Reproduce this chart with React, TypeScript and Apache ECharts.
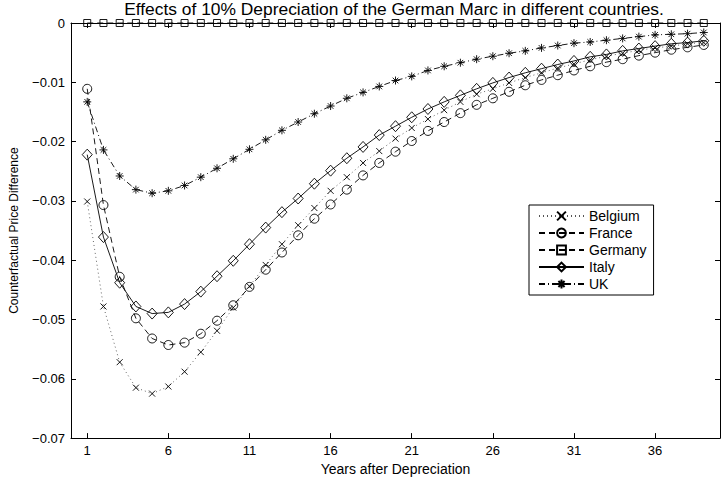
import React, { useEffect, useRef } from 'react';
import * as echarts from 'echarts';

const years = [1, 2, 3, 4, 5, 6, 7, 8, 9, 10, 11, 12, 13, 14, 15, 16, 17, 18, 19, 20, 21, 22, 23, 24, 25, 26, 27, 28, 29, 30, 31, 32, 33, 34, 35, 36, 37, 38, 39];
const tickYears = [1, 6, 11, 16, 21, 26, 31, 36];

const belgium = [-0.0301, -0.0478, -0.0572, -0.0615, -0.0625, -0.0613, -0.0588, -0.0555, -0.0519, -0.0480, -0.0444, -0.0408, -0.0373, -0.0341, -0.0312, -0.0283, -0.0260, -0.0236, -0.0216, -0.0195, -0.0177, -0.0162, -0.0147, -0.0133, -0.0120, -0.0111, -0.0101, -0.0092, -0.0084, -0.0076, -0.0069, -0.0062, -0.0056, -0.0051, -0.0046, -0.0042, -0.0039, -0.0035, -0.0033];
const france = [-0.0111, -0.0307, -0.0428, -0.0498, -0.0532, -0.0543, -0.0539, -0.0524, -0.0502, -0.0476, -0.0445, -0.0416, -0.0387, -0.0358, -0.0330, -0.0306, -0.0281, -0.0257, -0.0236, -0.0217, -0.0199, -0.0182, -0.0167, -0.0152, -0.0138, -0.0127, -0.0116, -0.0105, -0.0096, -0.0088, -0.0080, -0.0073, -0.0066, -0.0061, -0.0055, -0.0050, -0.0045, -0.0041, -0.0037];
const germany = [0, 0, 0, 0, 0, 0, 0, 0, 0, 0, 0, 0, 0, 0, 0, 0, 0, 0, 0, 0, 0, 0, 0, 0, 0, 0, 0, 0, 0, 0, 0, 0, 0, 0, 0, 0, 0, 0, 0];
const italy = [-0.0222, -0.0361, -0.0438, -0.0478, -0.0490, -0.0488, -0.0474, -0.0453, -0.0427, -0.0401, -0.0373, -0.0345, -0.0319, -0.0296, -0.0271, -0.0249, -0.0228, -0.0209, -0.0189, -0.0174, -0.0159, -0.0145, -0.0133, -0.0122, -0.0111, -0.0101, -0.0092, -0.0084, -0.0077, -0.0070, -0.0064, -0.0057, -0.0053, -0.0047, -0.0043, -0.0039, -0.0035, -0.0033, -0.0030];
const uk = [-0.0133, -0.0214, -0.0258, -0.0281, -0.0287, -0.0283, -0.0274, -0.0260, -0.0245, -0.0229, -0.0213, -0.0197, -0.0181, -0.0167, -0.0153, -0.0140, -0.0127, -0.0117, -0.0107, -0.0097, -0.0090, -0.0080, -0.0073, -0.0067, -0.0061, -0.0056, -0.0051, -0.0047, -0.0042, -0.0038, -0.0034, -0.0032, -0.0029, -0.0026, -0.0023, -0.0020, -0.0019, -0.0018, -0.0016];

const FONT = 'Liberation Sans, Arial, Helvetica, sans-serif';
const CROSS = 'path://M0,0L10,10M10,0L0,10';
const STAR = 'path://M5,0L5,10M0,5L10,5M1.5,1.5L8.5,8.5M8.5,1.5L1.5,8.5';

function makeSeries(name: string, values: number[], symbol: string, symbolSize: number | number[], lineType: any, lineColor = '#000') {
  return {
    name,
    type: 'line',
    data: years.map((x, i) => [x, values[i]]),
    symbol,
    symbolSize,
    clip: false,
    lineStyle: { color: lineColor, width: 0.9, type: lineType },
    itemStyle: { color: 'rgba(255,255,255,0)', borderColor: '#000', borderWidth: 0.9 },
    emphasis: { disabled: true },
  };
}

export default function App() {
  const ref = useRef<HTMLDivElement>(null);
  useEffect(() => {
    if (!ref.current) return;
    const chart = echarts.init(ref.current, null, { renderer: 'svg' });
    const axisCommon = {
      type: 'value',
      axisLine: { show: true, onZero: false, lineStyle: { color: '#000', width: 1 } },
      splitLine: { show: false },
    };
    chart.setOption({
      animation: false,
      backgroundColor: '#fff',
      textStyle: { fontFamily: FONT },
      title: {
        text: 'Effects of 10% Depreciation of the German Marc in different countries.',
        left: 394,
        top: 0,
        padding: 0,
        textAlign: 'center',
        textStyle: { fontFamily: FONT, fontSize: 17.4, fontWeight: 'normal', color: '#000' },
      },
      grid: { left: 67, right: 4, top: 23, bottom: 37 },
      legend: {
        orient: 'vertical',
        left: 529,
        top: 205,
        padding: [4, 7, 4, 9],
        itemWidth: 45,
        itemHeight: 11,
        itemGap: 3,
        borderColor: '#000',
        borderWidth: 1,
        backgroundColor: '#fff',
        textStyle: { fontFamily: FONT, fontSize: 14, color: '#000' },
        data: ['Belgium', 'France', 'Germany', 'Italy', 'UK'],
      },
      xAxis: [
        {
          ...axisCommon,
          position: 'bottom',
          min: 0,
          max: 40,
          name: 'Years after Depreciation',
          nameLocation: 'middle',
          nameGap: 19,
          nameTextStyle: { fontFamily: FONT, fontSize: 14, color: '#000' },
          axisTick: { show: true, inside: true, length: 5, customValues: tickYears, lineStyle: { color: '#000' } },
          axisLabel: { show: true, customValues: tickYears, margin: 6, fontFamily: FONT, fontSize: 13, color: '#000' },
        },
        {
          ...axisCommon,
          position: 'top',
          min: 0,
          max: 40,
          axisTick: { show: true, inside: true, length: 5, customValues: tickYears, lineStyle: { color: '#000' } },
          axisLabel: { show: false },
        },
      ],
      yAxis: [
        {
          ...axisCommon,
          position: 'left',
          min: -0.07,
          max: 0,
          interval: 0.01,
          name: 'Counterfactual Price Difference',
          nameLocation: 'middle',
          nameGap: 51,
          nameTextStyle: { fontFamily: FONT, fontSize: 12, color: '#000' },
          axisTick: { show: true, inside: true, length: 5, lineStyle: { color: '#000' } },
          axisLabel: {
            margin: 6,
            fontFamily: FONT,
            fontSize: 13,
            color: '#000',
            formatter: (v: number) => (Math.abs(v) < 1e-9 ? '0' : '\u2212' + Math.abs(v).toFixed(2)),
          },
        },
        {
          ...axisCommon,
          position: 'right',
          min: -0.07,
          max: 0,
          interval: 0.01,
          axisTick: { show: true, inside: true, length: 5, lineStyle: { color: '#000' } },
          axisLabel: { show: false },
        },
      ],
      series: [
        makeSeries('Belgium', belgium, CROSS, 6, [1, 3], '#555'),
        makeSeries('France', france, 'circle', 9, [6, 4]),
        makeSeries('Germany', germany, 'rect', 7, [6, 4]),
        makeSeries('Italy', italy, 'diamond', [10, 11], 'solid'),
        makeSeries('UK', uk, STAR, 8, [6, 3, 1, 3]),
      ],
    });
    return () => chart.dispose();
  }, []);
  return <div ref={ref} style={{ position: 'fixed', left: 0, top: 0, width: 724, height: 481 }} />;
}
